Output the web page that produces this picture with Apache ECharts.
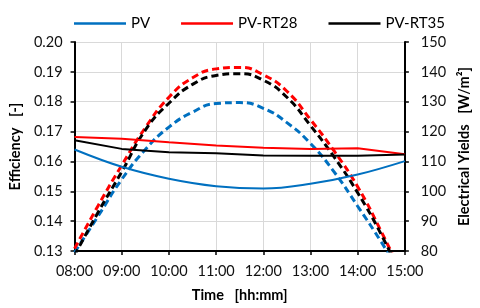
<!DOCTYPE html>
<html>
<head>
<meta charset="utf-8">
<script src="https://cdn.jsdelivr.net/npm/echarts@6/dist/echarts.min.js"></script>
<style>html,body{margin:0;padding:0;background:#fff}#c{width:480px;height:308px}</style>
</head>
<body>
<div id="c"></div>
<script>
// Hours (decimal) for efficiency data (solid lines)
const hoursEff = [8, 9, 10, 11, 12, 13, 14, 15];
const effPV     = [0.1640, 0.1582, 0.1542, 0.1517, 0.1509, 0.1525, 0.1556, 0.1601];
const effRT28   = [0.1682, 0.1676, 0.1664, 0.1653, 0.1646, 0.1642, 0.1644, 0.1624];
const effRT35   = [0.1671, 0.1642, 0.1631, 0.1627, 0.1620, 0.1619, 0.1619, 0.1623];

// Half-hourly electrical yields (dashed lines), W/m2
const hoursYield = [8, 8.5, 9, 9.5, 10, 10.5, 11, 11.5, 12, 12.5, 13, 13.5, 14, 14.5, 15];
const yieldPV   = [79.5, 91.7, 104.0, 114.0, 121.5, 126.5, 129.4, 129.7, 127.8, 123.0, 116.0, 106.5, 95.0, 83.0, 70.0];
const yieldRT28 = [80.8, 95.2, 108.7, 121.3, 131.5, 138.0, 141.0, 141.5, 139.0, 133.5, 124.0, 113.5, 101.5, 86.5, 70.0];
const yieldRT35 = [78.5, 93.0, 106.5, 120.5, 129.5, 135.8, 138.8, 139.4, 137.2, 131.5, 122.0, 111.5, 99.5, 85.5, 69.0];

const seriesNames = ['PV', 'PV-RT28', 'PV-RT35'];
const colors = ['#0070C0', '#FF0000', '#000000'];

const pair = (xs, ys) => xs.map((x, i) => [x, ys[i]]);
const fmtHour = v => (v < 10 ? '0' : '') + Math.round(v) + ':00';
const font = 'Lato, "Liberation Sans", sans-serif';

const chart = echarts.init(document.getElementById('c'), null, {renderer: 'canvas'});
const effData = [effPV, effRT28, effRT35];
const yieldData = [yieldPV, yieldRT28, yieldRT35];

const series = [];
seriesNames.forEach((n, i) => {
  series.push({
    name: n, type: 'line', yAxisIndex: 0, symbol: 'none', clip: true,
    smooth: i === 0 ? 0.4 : false,
    data: pair(hoursEff, effData[i]),
    lineStyle: {color: colors[i], width: 2},
    itemStyle: {color: colors[i]},
    z: 3
  });
});
seriesNames.forEach((n, i) => {
  series.push({
    name: n + ' yield', type: 'line', yAxisIndex: 1, symbol: 'none', clip: true,
    smooth: 0.5,
    data: pair(hoursYield, yieldData[i]),
    lineStyle: {color: colors[i], width: 3, type: [7, 4]},
    itemStyle: {color: colors[i]},
    z: 2
  });
});

chart.setOption({
  animation: false,
  textStyle: {fontFamily: font},
  legend: {
    data: seriesNames,
    top: 11, left: 69,
    icon: 'rect', itemWidth: 52, itemHeight: 2.5, itemGap: 31,
    textStyle: {fontSize: 15, color: '#000', fontFamily: font}
  },
  grid: {left: 72, right: 73, top: 42, bottom: 56, containLabel: false},
  xAxis: {
    type: 'value', min: 8, max: 15, interval: 1,
    name: 'Time   [hh:mm]', nameLocation: 'middle', nameGap: 37,
    nameTextStyle: {fontSize: 14.5, fontWeight: 'bold', color: '#000', fontFamily: font},
    axisLine: {lineStyle: {color: '#000', width: 2}},
    axisTick: {show: true, length: 4, lineStyle: {color: '#000', width: 1.5}},
    axisLabel: {formatter: fmtHour, fontSize: 14.5, color: '#111', margin: 13, fontFamily: font},
    splitLine: {show: true, lineStyle: {color: '#d9d9d9', width: 1}}
  },
  yAxis: [{
    type: 'value', position: 'left', min: 0.13, max: 0.20, interval: 0.01,
    name: 'Efficiency   [-]', nameLocation: 'middle', nameGap: 50, nameRotate: 90,
    nameTextStyle: {fontSize: 14.5, fontWeight: 'bold', color: '#000', fontFamily: font},
    axisLine: {show: true, lineStyle: {color: '#000', width: 2}},
    axisTick: {show: true, length: 4, lineStyle: {color: '#000', width: 1.5}},
    axisLabel: {formatter: v => v.toFixed(2), fontSize: 14.5, color: '#111', margin: 12, fontFamily: font},
    splitLine: {show: true, lineStyle: {color: '#d9d9d9', width: 1}}
  }, {
    type: 'value', position: 'right', min: 80, max: 150, interval: 10,
    name: 'Electrical Yields   [W/m²]', nameLocation: 'middle', nameGap: 51, nameRotate: 90,
    nameTextStyle: {fontSize: 14.5, fontWeight: 'bold', color: '#000', fontFamily: font},
    axisLine: {show: true, lineStyle: {color: '#000', width: 2}},
    axisTick: {show: true, length: 4, lineStyle: {color: '#000', width: 1.5}},
    axisLabel: {fontSize: 14.5, color: '#111', margin: 16, fontFamily: font},
    splitLine: {show: false}
  }],
  series: series
});
</script>
</body>
</html>
